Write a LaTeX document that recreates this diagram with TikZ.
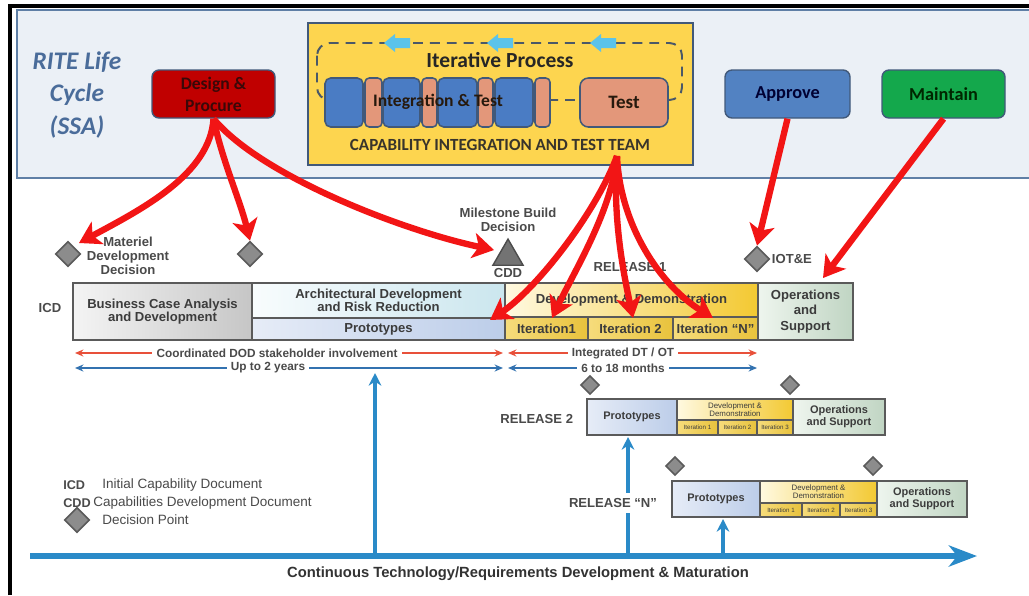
\documentclass[tikz,border=0pt]{standalone}
\usepackage{fontspec}
\setmainfont{Liberation Sans}
\newfontfamily\calfont{Carlito}
\usetikzlibrary{arrows.meta,fit,shapes.geometric}
\definecolor{panelbg}{HTML}{EBF0F6}
\definecolor{panelline}{HTML}{5F7FA6}
\definecolor{boxline}{HTML}{41597A}
\definecolor{ritetext}{HTML}{4A6C9A}
\definecolor{dpred}{HTML}{C00000}
\definecolor{dptext}{HTML}{3A0808}
\definecolor{citgold}{HTML}{FDD54F}
\definecolor{itblue}{HTML}{4A7CC4}
\definecolor{itsalmon}{HTML}{E3977A}
\definecolor{appblue}{HTML}{5282C2}
\definecolor{maingreen}{HTML}{14A84C}
\definecolor{loopgray}{HTML}{4A5868}
\definecolor{arrcyan}{HTML}{5BC3EA}
\definecolor{callred}{HTML}{F21515}
\definecolor{axisblue}{HTML}{2A8AC8}
\definecolor{spanred}{HTML}{E8503A}
\definecolor{spanblue}{HTML}{3372B0}
\definecolor{bartext}{HTML}{3C3C3C}
\definecolor{barline}{HTML}{5A5A5A}
\definecolor{labelgray}{HTML}{4A4A4A}
\definecolor{diagray}{HTML}{8C8C8C}
\definecolor{bcalight}{HTML}{F4F4F4}
\definecolor{bcadark}{HTML}{C6C6C6}
\definecolor{adrlight}{HTML}{F8FCFD}
\definecolor{adrdark}{HTML}{CBE6EE}
\definecolor{prolight}{HTML}{E6ECF7}
\definecolor{prodark}{HTML}{BCCDE9}
\definecolor{ddlight}{HTML}{FFF9E0}
\definecolor{dddark}{HTML}{F3C932}
\definecolor{itlight}{HTML}{F6DC7C}
\definecolor{itdark}{HTML}{E8C23C}
\definecolor{opslight}{HTML}{EEF5EE}
\definecolor{opsdark}{HTML}{C0D5C3}

\begin{document}
\begin{tikzpicture}[x=0.025cm, y=-0.025cm,
  box/.style={inner sep=0pt, rounded corners=5pt, draw=boxline, line width=1pt},
  boxtext/.style={font=\calfont\bfseries\fontsize{13}{15.5}\selectfont, align=center, inner sep=0pt},
  blk/.style={inner sep=0pt, rounded corners=4pt, draw=boxline, line width=1.1pt},
  seg/.style={inner sep=0pt, draw=barline, line width=0.8pt},
  segtext/.style={inner sep=0pt, text=bartext, align=center, font=\bfseries\fontsize{9.3}{9.4}\selectfont},
  smalltext/.style={segtext, font=\bfseries\fontsize{7.8}{8.6}\selectfont},
  tinytext/.style={segtext, font=\fontsize{5.6}{5.8}\selectfont},
  itertext/.style={segtext, font=\fontsize{4.4}{5}\selectfont},
  iterfill/.style={left color=itlight, right color=itdark},
  bca/.style={left color=bcalight, right color=bcadark},
  adr/.style={left color=adrlight, right color=adrdark},
  proto/.style={left color=prolight, right color=prodark},
  ddm/.style={left color=ddlight, right color=dddark},
  ops/.style={left color=opslight, right color=opsdark},
  decision/.style={diamond, aspect=1, inner sep=0pt, minimum width=0.63cm, minimum height=0.63cm,
    fill=diagray, draw=barline, line width=1.1pt},
  smalldecision/.style={decision, minimum width=0.47cm, minimum height=0.47cm},
  lbl/.style={font=\bfseries\fontsize{9.3}{10}\selectfont, text=labelgray, align=center},
  spanlbl/.style={font=\bfseries\fontsize{8.4}{9}\selectfont, text=labelgray, fill=white, inner sep=3pt},
  legend/.style={font=\fontsize{9.6}{10}\selectfont, text=labelgray, anchor=west, inner sep=0pt},
  legendkey/.style={font=\bfseries\fontsize{9}{10}\selectfont, text=labelgray, anchor=west, inner sep=0pt},
  callout/.style={draw=callred, line width=4.5pt, -{Stealth[length=15pt,width=18pt,inset=4pt]}},
  spanred/.style={draw=spanred, line width=1.3pt,
    {Stealth[length=6pt,width=5pt]}-{Stealth[length=6pt,width=5pt]}},
  spanblue/.style={draw=spanblue, line width=1.3pt,
    {Stealth[length=6pt,width=5pt]}-{Stealth[length=6pt,width=5pt]}},
  uparrow/.style={draw=axisblue, line width=2.2pt, -{Stealth[length=9pt,width=9pt]}},
  cyanarrow/.pic={\fill[arrcyan] (-13,0) -- (-2,-9) -- (-2,-5) -- (13,-5) -- (13,5) -- (-2,5) -- (-2,9) -- cycle;}
]
\useasboundingbox (0,0) rectangle (1029,595);
\fill[white] (0,0) rectangle (1029,595);

% page frame
\draw[black, line width=2.2pt] (10,595) -- (10,6) -- (1029,6);

% ---------- RITE life cycle panel ----------
\node[fit={(17,10) (1045,178)}, inner sep=0pt, fill=panelbg, draw=panelline, line width=1.5pt] (panel) {};
\node[font=\calfont\bfseries\itshape\fontsize{18}{23.4}\selectfont, text=ritetext, align=center] (rite) at (77,95) {RITE Life\\Cycle\\(SSA)};

\node[box, fit={(152,70) (275,118)}, fill=dpred] (dp) {};
\node[boxtext, font=\calfont\bfseries\fontsize{12.5}{15.5}\selectfont, text=dptext] (dpt) at (dp.center) {Design \&\\Procure};

% capability integration and test team
\node[fit={(308,23) (693,165)}, inner sep=0pt, fill=citgold, draw=boxline, line width=1.2pt] (cit) {};
\draw[loopgray, line width=1.4pt, dash pattern=on 7pt off 5pt, rounded corners=9pt] (317,43) rectangle (682,100);
\pic at (397,43) {cyanarrow};
\pic at (500,43) {cyanarrow};
\pic at (603,43) {cyanarrow};
\node[font=\calfont\bfseries\fontsize{15.3}{16}\selectfont, text=black!85] (iter) at (500,60) {Iterative Process};

\node[blk, fit={(325,78) (363,127)}, fill=itblue] (ib1) {};
\node[blk, fit={(365,78) (382,127)}, fill=itsalmon, rounded corners=3pt] (is1) {};
\node[blk, fit={(383,78) (420,127)}, fill=itblue] (ib2) {};
\node[blk, fit={(422,78) (437,127)}, fill=itsalmon, rounded corners=3pt] (is2) {};
\node[blk, fit={(438,78) (477,127)}, fill=itblue] (ib3) {};
\node[blk, fit={(478,78) (493,127)}, fill=itsalmon, rounded corners=3pt] (is3) {};
\node[blk, fit={(495,78) (533,127)}, fill=itblue] (ib4) {};
\node[blk, fit={(535,78) (550,127)}, fill=itsalmon, rounded corners=3pt] (is4) {};
\node[font=\calfont\bfseries\fontsize{12.5}{13}\selectfont, text=black!80!brown] (intest) at (438,102) {Integration \& Test};
\node[blk, fit={(580,78) (668,127)}, fill=itsalmon, rounded corners=6pt] (test) {};
\node[boxtext, font=\calfont\bfseries\fontsize{13.5}{14}\selectfont, text=black!80!brown] (testt) at (test.center) {Test};
\node[font=\calfont\bfseries\fontsize{12.1}{13}\selectfont, text=black!80!olive] (citlbl) at (500,145)
  {CAPABILITY INTEGRATION AND TEST TEAM};

\node[box, fit={(725,70) (850,118)}, fill=appblue] (app) {};
\node[boxtext, text=black!80!blue] (appt) at (app.center) {Approve};
\node[box, fit={(882,70) (1005,118)}, fill=maingreen] (mnt) {};
\node[boxtext, text=black!85!green] (mntt) at (mnt.center) {Maintain};

% ---------- decision points and milestones ----------
\node[decision] (d1) at (68,254) {};
\node[lbl] (mdd) at (128,256) {Materiel\\Development\\Decision};
\node[decision] (d2) at (250,254) {};
\node[regular polygon, regular polygon sides=3, minimum size=0.87cm, inner sep=0pt,
  fill=black!55, draw=black!70, line width=1pt] (tri) at (508,256.5) {};
\node[lbl] (mbd) at (508,220) {Milestone Build\\Decision};
\node[lbl] (cdd) at (508,273) {CDD};
\node[lbl] (rel1) at (630,267) {RELEASE 1};
\node[decision] (d3) at (757,259) {};
\node[lbl, anchor=west] (iote) at (767,259) {IOT\&E};

% ---------- release 1 bar ----------
\node[lbl] (icd) at (50,308) {ICD};
\node[seg, bca, fit={(73,283) (252,340)}] (bcad) {};
\node[segtext, font=\bfseries\fontsize{9.3}{9.6}\selectfont] (bcadt) at (bcad.center) {Business Case Analysis\\and Development};
\node[seg, adr, fit={(252,283) (505,318)}] (adrr) {};
\node[segtext, font=\bfseries\fontsize{9.3}{9}\selectfont] (adrrt) at (adrr.center) {Architectural Development\\and Risk Reduction};
\node[seg, proto, fit={(252,318) (505,340)}] (pro1) {};
\node[segtext] (pro1t) at (pro1.center) {Prototypes};
\node[seg, ddm, fit={(505,283) (758,317)}] (dd1) {};
\node[segtext] (dd1t) at (dd1.center) {Development \& Demonstration};
\node[seg, iterfill, fit={(505,317) (588,340)}] (it1) {};
\node[segtext] (it1t) at (it1.center) {Iteration1};
\node[seg, iterfill, fit={(588,317) (673,340)}] (it2) {};
\node[segtext] (it2t) at (it2.center) {Iteration 2};
\node[seg, iterfill, fit={(673,317) (758,340)}] (itn) {};
\node[segtext] (itnt) at (itn.center) {Iteration “N”};
\node[seg, ops, fit={(758,283) (853,340)}] (ops1) {};
\node[segtext, font=\bfseries\fontsize{9.3}{10.8}\selectfont] (ops1t) at (ops1.center) {Operations\\and\\Support};

% spans below the bar
\coordinate (r1a) at (75,353);  \coordinate (r1b) at (503,353);
\coordinate (r2a) at (508,353); \coordinate (r2b) at (757,353);
\coordinate (b1a) at (75,368);  \coordinate (b1b) at (503,368);
\coordinate (b2a) at (508,368); \coordinate (b2b) at (757,368);
\draw[spanred] (r1a) -- (r1b);
\draw[spanred] (r2a) -- (r2b);
\draw[spanblue] (b1a) -- (b1b);
\draw[spanblue] (b2a) -- (b2b);
\node[spanlbl] (coord) at (277,353) {Coordinated DOD stakeholder involvement};
\node[spanlbl] (dtot) at (623,353) {Integrated DT / OT};
\node[spanlbl, inner ysep=1pt] (two) at (268,368) {Up to 2 years};
\node[spanlbl, inner ysep=1pt] (sixt) at (623,368) {6 to 18 months};

% ---------- release 2 ----------
\node[smalldecision] (e1) at (590,385) {};
\node[smalldecision] (e2) at (790,385) {};
\node[lbl, anchor=east] (rel2) at (578,419) {RELEASE 2};
\node[seg, proto, fit={(587,399) (677,435)}] (pro2) {};
\node[smalltext] (pro2t) at (pro2.center) {Prototypes};
\node[seg, ddm, fit={(677,399) (793,420)}] (dd2) {};
\node[tinytext] (dd2t) at (dd2.center) {Development \&\\Demonstration};
\node[seg, iterfill, fit={(677,420) (718,435)}] (i21) {};
\node[itertext] (i21t) at (i21.center) {Iteration 1};
\node[seg, iterfill, fit={(718,420) (757,435)}] (i22) {};
\node[itertext] (i22t) at (i22.center) {Iteration 2};
\node[seg, iterfill, fit={(757,420) (793,435)}] (i23) {};
\node[itertext] (i23t) at (i23.center) {Iteration 3};
\node[seg, ops, fit={(793,399) (885,435)}] (ops2) {};
\node[smalltext] (ops2t) at (ops2.center) {Operations\\and Support};

% ---------- release N ----------
\node[smalldecision] (f1) at (675,466) {};
\node[smalldecision] (f2) at (873,466) {};
\node[seg, proto, fit={(672,481) (760,517)}] (pron) {};
\node[smalltext] (pront) at (pron.center) {Prototypes};
\node[seg, ddm, fit={(760,481) (877,503)}] (ddn) {};
\node[tinytext] (ddnt) at (ddn.center) {Development \&\\Demonstration};
\node[seg, iterfill, fit={(760,503) (802,517)}] (in1) {};
\node[itertext] (in1t) at (in1.center) {Iteration 1};
\node[seg, iterfill, fit={(802,503) (840,517)}] (in2) {};
\node[itertext] (in2t) at (in2.center) {Iteration 2};
\node[seg, iterfill, fit={(840,503) (877,517)}] (in3) {};
\node[itertext] (in3t) at (in3.center) {Iteration 3};
\node[seg, ops, fit={(877,481) (967,517)}] (opsn) {};
\node[smalltext] (opsnt) at (opsn.center) {Operations\\and Support};

% ---------- technology axis ----------
\coordinate (ax0) at (30,556);
\coordinate (ax1) at (977,556);
\draw[axisblue, line width=3.6pt, -{Stealth[length=20pt,width=15pt,inset=6pt]}] (ax0) -- (ax1);
\coordinate (v1) at (375,556); \coordinate (v1t) at (375,373);
\coordinate (v2) at (628,556); \coordinate (v2t) at (628,437);
\coordinate (v3) at (723,556); \coordinate (v3t) at (723,519);
\draw[uparrow] (v1) -- (v1t);
\draw[uparrow] (v2) -- (v2t);
\draw[uparrow] (v3) -- (v3t);
\node[lbl, fill=white, inner sep=4pt] (relN) at (613,503) {RELEASE “N”};
\node[font=\bfseries\fontsize{10.5}{11}\selectfont, text=black!80] (ctrd) at (518,574)
  {Continuous Technology/Requirements Development \& Maturation};

% ---------- legend ----------
\node[legendkey] (lk1) at (63,485) {ICD};
\node[legend] (lt1) at (102,485) {Initial Capability Document};
\node[legendkey] (lk2) at (63,503) {CDD};
\node[legend] (lt2) at (93,503) {Capabilities Development Document};
\node[decision] (lk3) at (77,520) {};
\node[legend] (lt3) at (102,520) {Decision Point};

% ---------- callouts from the RITE activities ----------
\coordinate (tipA) at (79,243);
\coordinate (tipC) at (494,250);
\coordinate (citout) at (617,156);
\coordinate (tipP) at (490,320);
\coordinate (tipI1) at (552,318);
\coordinate (tipI2) at (633,318);
\coordinate (tipIN) at (713,318);
\coordinate (tipO) at (823,278);
\draw[callout] (dp.south) .. controls (210,175) and (140,210) .. (tipA);
\draw[callout] (dp.south) .. controls (222,160) and (240,200) .. (d2.north);
\draw[callout] (dp.south) .. controls (260,175) and (400,230) .. (tipC);
\draw[callout] (citout) .. controls (595,215) and (535,290) .. (tipP);
\draw[callout] (citout) .. controls (612,210) and (575,270) .. (tipI1);
\draw[callout] (citout) .. controls (612,220) and (625,280) .. (tipI2);
\draw[callout] (citout) .. controls (620,225) and (660,285) .. (tipIN);
\draw[callout] (app.south) -- (d3.north);
\draw[callout] (mnt.south) -- (tipO);
\end{tikzpicture}
\end{document}
